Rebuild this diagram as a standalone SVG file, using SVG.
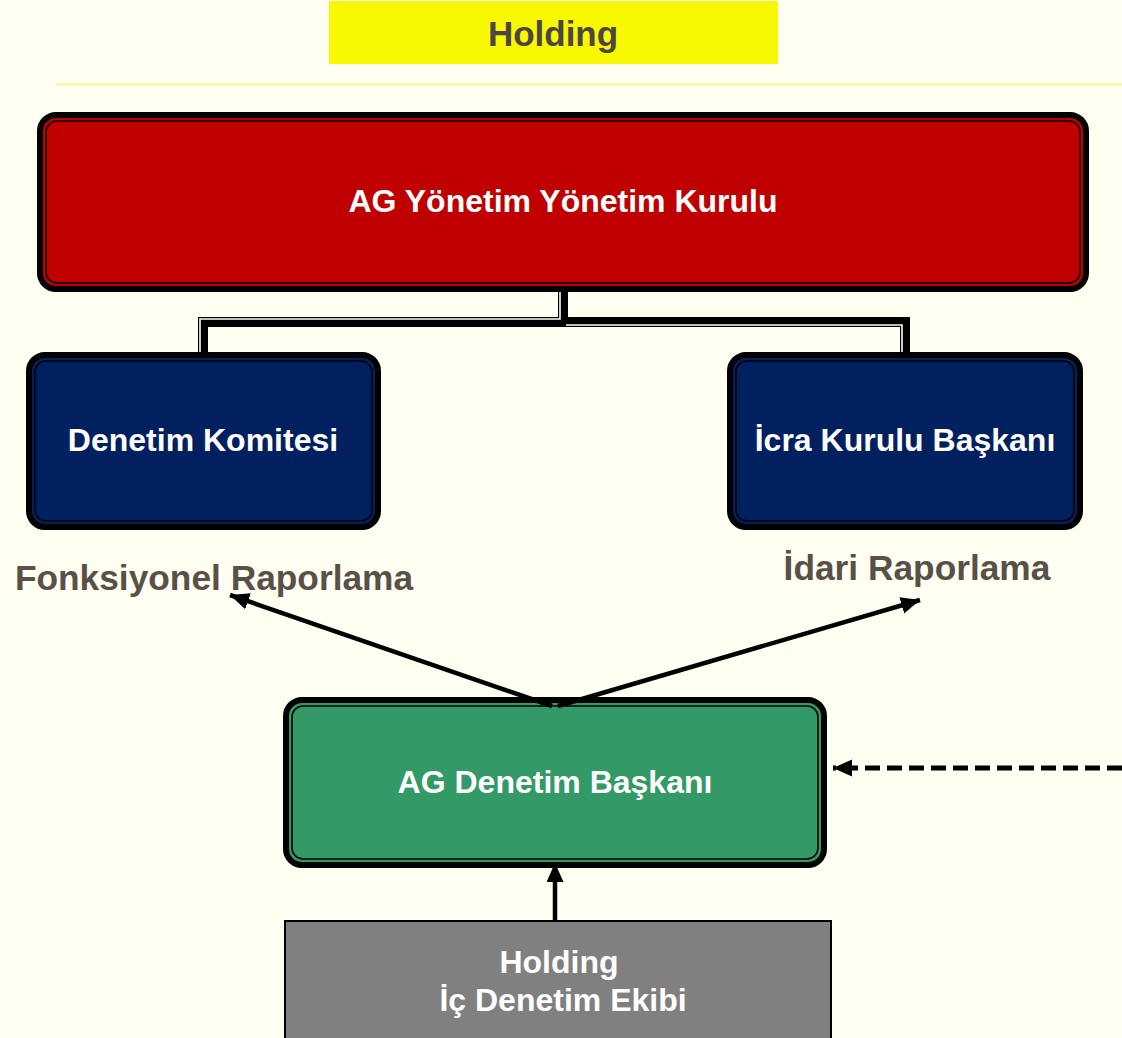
<svg xmlns="http://www.w3.org/2000/svg" width="1122" height="1038" viewBox="0 0 1122 1038">
<defs>
<style>
.lbl{font-family:"Liberation Sans",Arial,sans-serif;font-weight:bold;text-anchor:middle}
.w{fill:#FFFFFF;font-size:32px}
.g{fill:#595048;font-size:35.3px}
.outer{stroke:#000;stroke-width:6}
.inner{fill:none;stroke:#000;stroke-width:1.6}
.conn{fill:none;stroke:#000;stroke-width:10;stroke-linejoin:miter}
.gap{fill:none;stroke:#FFFFF2;stroke-width:1.6}
.arr{fill:none;stroke:#000;stroke-width:4.5}
</style>
<marker id="ah" markerUnits="userSpaceOnUse" markerWidth="22" markerHeight="18" refX="19" refY="8.5" orient="auto">
<path d="M0,0 L19,8.5 L0,17 Z" fill="#000"/>
</marker>
</defs>
<rect width="1122" height="1038" fill="#FFFFF2"/>
<line x1="56" y1="84.5" x2="1122" y2="84.5" stroke="#FFF8B5" stroke-width="3"/>

<g id="holding-title">
<rect x="329" y="1" width="449" height="63" fill="#F8F800"/>
<text class="lbl" x="553" y="46" style="fill:#4D4545;font-size:35px">Holding</text>
</g>

<g id="yonetim-kurulu">
<rect class="outer" x="40" y="115" width="1046" height="174" rx="16" fill="#C00000"/>
<rect class="inner" x="46" y="121" width="1034" height="162" rx="11"/>
<text class="lbl w" x="563" y="212">AG Yönetim Yönetim Kurulu</text>
</g>

<g id="denetim-komitesi">
<rect class="outer" x="29" y="355" width="349" height="172" rx="16" fill="#002060"/>
<rect class="inner" x="35" y="361" width="337" height="160" rx="11"/>
<text class="lbl w" x="203" y="451">Denetim Komitesi</text>
</g>

<g id="icra-kurulu">
<rect class="outer" x="730" y="355" width="350" height="172" rx="16" fill="#002060"/>
<rect class="inner" x="736" y="361" width="338" height="160" rx="11"/>
<text class="lbl w" x="905" y="451">İcra Kurulu Başkanı</text>
</g>

<g id="fonksiyonel">
<text class="lbl g" x="214" y="590">Fonksiyonel Raporlama</text>
</g>
<g id="idari">
<text class="lbl g" x="917" y="580">İdari Raporlama</text>
</g>

<g id="ag-denetim">
<rect class="outer" x="286" y="700" width="538" height="165" rx="16" fill="#339966"/>
<rect class="inner" x="292" y="706" width="526" height="153" rx="11"/>
<text class="lbl w" x="555" y="793">AG Denetim Başkanı</text>
</g>

<g id="ic-denetim">
<rect x="285" y="921" width="546" height="120" fill="#808080" stroke="#000" stroke-width="2"/>
<text class="lbl w" x="559" y="973">Holding</text>
<text class="lbl w" x="563" y="1011">İç Denetim Ekibi</text>
</g>

<g id="connectors">
<path class="conn" d="M563,292 V322 H203 V352"/>
<path class="conn" d="M563,292 V322 H905 V352"/>
<path class="gap" d="M560,292 V319 H200 V352"/>
<path class="gap" d="M566,325 H902 V352"/>
<line class="arr" x1="552" y1="706" x2="230" y2="595" marker-end="url(#ah)"/>
<line class="arr" x1="558" y1="706" x2="920" y2="600" marker-end="url(#ah)"/>
<line class="arr" x1="555" y1="920" x2="555" y2="863" marker-end="url(#ah)"/>
<line x1="1122" y1="768" x2="833" y2="768" stroke="#000" stroke-width="5" stroke-dasharray="15 7" marker-end="url(#ah)"/>
</g>
</svg>
